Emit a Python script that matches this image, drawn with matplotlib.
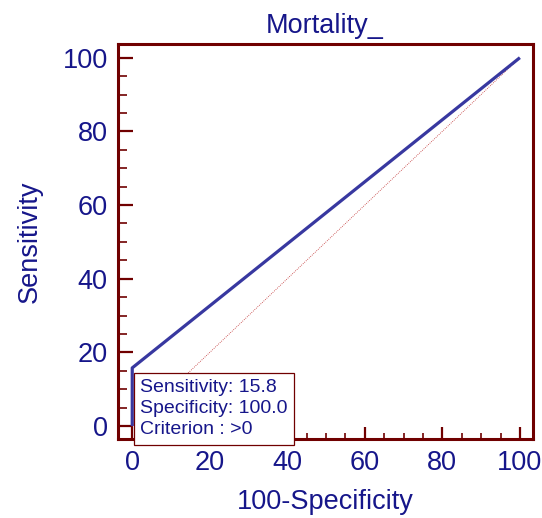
import matplotlib
matplotlib.use("Agg")
import matplotlib.pyplot as plt
from matplotlib.ticker import MultipleLocator

# ROC data (100-Specificity, Sensitivity)
fpr = [0, 0, 100]
tpr = [0, 15.8, 100]
ref_line = [0, 100]

title = "Mortality_"
sens_text = "Sensitivity: 15.8"
spec_text = "Specificity: 100.0"
crit_text = "Criterion : >0"

navy = "#16168a"
maroon = "#700000"
blue = "#3838a0"

plt.rcParams['font.family'] = ['Liberation Sans', 'DejaVu Sans']

fig = plt.figure(figsize=(5.42, 5.18), dpi=100)
ax = fig.add_axes([0.2168, 0.1525, 0.766, 0.7625])

ax.plot(ref_line, ref_line, color="#c03030", lw=0.6, ls=(0, (1, 1.5)))
ax.plot(fpr, tpr, color=blue, lw=2.3, solid_capstyle="butt", clip_on=False)

ax.set_xlim(-3.8, 103.3)
ax.set_ylim(-3.5, 103.7)

ax.xaxis.set_major_locator(MultipleLocator(20))
ax.yaxis.set_major_locator(MultipleLocator(20))
ax.xaxis.set_minor_locator(MultipleLocator(5))
ax.yaxis.set_minor_locator(MultipleLocator(5))

for s in ax.spines.values():
    s.set_color(maroon)
    s.set_linewidth(2.2)

ax.tick_params(which="both", direction="in", color=maroon, top=False, right=False,
               labelcolor=navy, labelsize=19.5)
ax.tick_params(axis="y", which="major", length=11, width=1.6, pad=7)
ax.tick_params(axis="y", which="minor", length=6.5, width=1.2)
ax.tick_params(axis="x", which="major", length=9, width=1.6, pad=8)
ax.tick_params(axis="x", which="minor", length=4.5, width=1.2)

ax.set_title(title, color=navy, fontsize=19.5, pad=8)
ax.set_xlabel("100-Specificity", color=navy, fontsize=19.5, labelpad=9)
ax.set_ylabel("Sensitivity", color=navy, fontsize=19.5, labelpad=14)

ax.annotate(sens_text + "\n" + spec_text + "\n" + crit_text,
            xy=(fpr[1], tpr[1]), xytext=(5.5, -8), textcoords="offset points",
            ha="left", va="top", fontsize=14, color=navy, linespacing=1.32,
            annotation_clip=False, zorder=5,
            bbox=dict(boxstyle="square,pad=0.32", fc="white", ec=maroon, lw=0.9))

fig.savefig("out.png", dpi=100)
